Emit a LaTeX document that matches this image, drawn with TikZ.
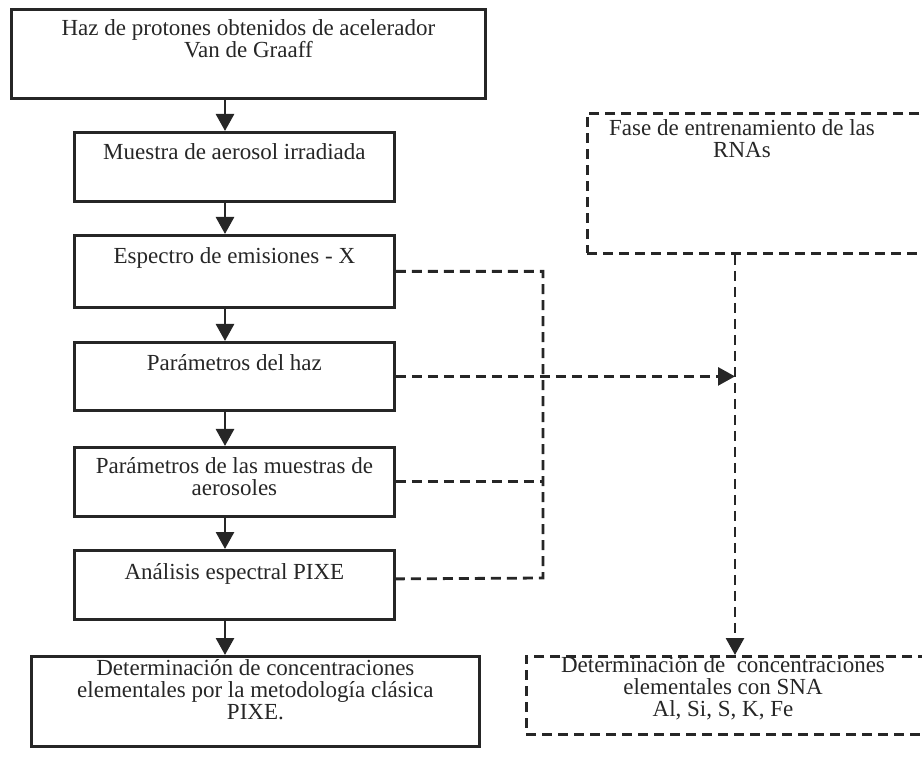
\documentclass[tikz,border=0pt]{standalone}
\usepackage{fontspec}
\setmainfont{Liberation Serif}
\usetikzlibrary{arrows.meta}
\usetikzlibrary{positioning}
\tikzset{>={Triangle[length=17pt,width=18pt]}}

\begin{document}
\begin{tikzpicture}[x=1pt,y=-1pt,
  procbox/.style={draw=black!85,line width=2.8pt,anchor=north west,inner sep=0pt},
  trainbox/.style={procbox,dash pattern=on 10pt off 6pt},
  boxtext/.style={anchor=base,align=center,inner sep=0pt,text=black!85,font=\fontsize{23}{22}\selectfont},
  flow/.style={->,draw=black!85,line width=2.8pt},
  dashline/.style={draw=black!85,line width=2.8pt,dash pattern=on 10pt off 6pt},
  dflow/.style={dashline,->}]
\clip (0,0) rectangle (922,759);
% metodologia clasica
\node[procbox,minimum width=474pt,minimum height=89pt] (haz) at (10,8) {};
\node[procbox,minimum width=320pt,minimum height=69pt] (muestra) at (73,131) {};
\node[procbox,minimum width=320pt,minimum height=72pt] (espectro) at (73,234) {};
\node[procbox,minimum width=320pt,minimum height=68pt] (phaz) at (73,341) {};
\node[procbox,minimum width=320pt,minimum height=69pt] (pmuestras) at (73,446) {};
\node[procbox,minimum width=320pt,minimum height=69pt] (analisis) at (73,549) {};
\node[procbox,minimum width=448pt,minimum height=90pt] (clasica) at (30,655) {};
% redes neuronales
\node[trainbox,minimum width=400pt,minimum height=140pt] (rna) at (586,112) {};
\node[trainbox,minimum width=450pt,minimum height=78pt] (sna) at (525,655) {};

% textos (base = ultima linea)
\node[boxtext] (haz-t) at ([yshift=-50pt]haz.north) {Haz de protones obtenidos de acelerador\\Van de Graaff};
\node[boxtext] (muestra-t) at ([yshift=-29pt]muestra.north) {Muestra de aerosol irradiada};
\node[boxtext] (espectro-t) at ([yshift=-30pt]espectro.north) {Espectro de emisiones - X};
\node[boxtext] (phaz-t) at ([yshift=-30pt]phaz.north) {Parámetros del haz};
\node[boxtext] (pmuestras-t) at ([yshift=-50pt]pmuestras.north) {Parámetros de las muestras de\\aerosoles};
\node[boxtext] (analisis-t) at ([yshift=-30pt]analisis.north) {Análisis espectral PIXE};
\node[boxtext] (clasica-t) at ([yshift=-64pt]clasica.north) {Determinación de concentraciones\\elementales por la metodología clásica\\PIXE.};
\node[boxtext] (rna-t) at ([xshift=156pt,yshift=-46pt]rna.north west) {Fase de entrenamiento de las\\RNAs};
\node[boxtext] (sna-t) at ([xshift=198pt,yshift=-61pt]sna.north west) {Determinación de \ concentraciones\\elementales con SNA\\Al, Si, S, K, Fe};

\coordinate (spine) at (225,0);
\coordinate (bus) at (543,0);
\coordinate (rnacol) at (735,0);

\draw[flow] (haz.south -| spine) -- (muestra.north -| spine);
\draw[flow] (muestra.south -| spine) -- (espectro.north -| spine);
\draw[flow] (espectro.south -| spine) -- (phaz.north -| spine);
\draw[flow] (phaz.south -| spine) -- (pmuestras.north -| spine);
\draw[flow] (pmuestras.south -| spine) -- (analisis.north -| spine);
\draw[flow] (analisis.south -| spine) -- (clasica.north -| spine);

\draw[dashline] (espectro.east) -| (bus |- 0,578) -- ([yshift=6pt]analisis.east);
\draw[dashline] (pmuestras.east) -- (pmuestras.east -| bus);
\draw[dflow] (phaz.east) -- (phaz.east -| rnacol);
\draw[dflow] (rna.south -| rnacol) -- (sna.north -| rnacol);
\end{tikzpicture}
\end{document}
